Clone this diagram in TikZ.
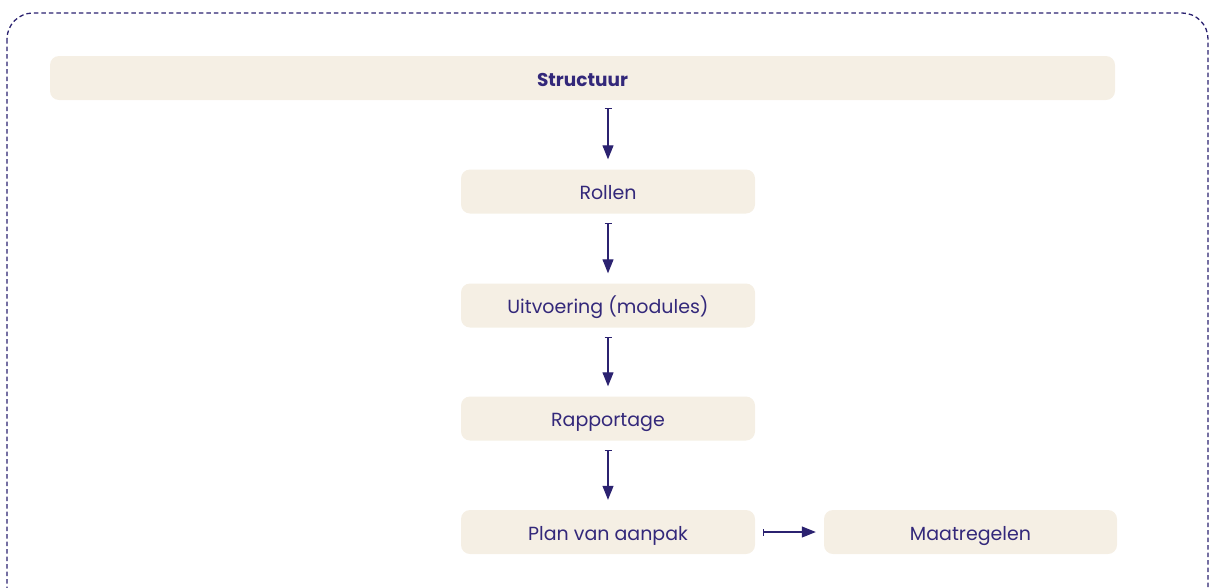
\documentclass[tikz,border=0pt]{standalone}
\usepackage{fontspec}
\setmainfont{Poppins}
\usetikzlibrary{arrows.meta}
\definecolor{navy}{HTML}{2B2270}
\definecolor{txt}{HTML}{33287A}
\definecolor{beige}{HTML}{F5EFE4}
\tikzset{
  box/.style={fill=beige, rounded corners=9pt, minimum height=44pt, text=txt, font=\fontsize{19}{22}\selectfont, inner sep=0pt, text height=16pt, text depth=0pt},
  conn/.style={draw=navy, line width=1.1pt, {Bar[width=7pt,line width=1pt]}-{Triangle[length=14pt,width=11pt]}},
  frame/.style={draw=navy, line width=1.3pt, dash pattern=on 4.5pt off 3pt, rounded corners=26pt},
}
\begin{document}
\begin{tikzpicture}[x=1pt,y=-1pt]
\useasboundingbox (0,0) rectangle (1212,587);
\clip (0,0) rectangle (1212,587);
\draw[frame] (7,13) rectangle (1208,620);
\node[box, minimum width=1065pt, font=\fontsize{18.5}{22}\selectfont\bfseries] (s) at (582.5,78) {Structuur};
\node[box, minimum width=294pt] (r) at (608,191.5) {Rollen};
\node[box, minimum width=294pt] (u) at (608,305.5) {Uitvoering (modules)};
\node[box, minimum width=294pt] (ra) at (608,418.5) {Rapportage};
\node[box, minimum width=294pt] (p) at (608,532) {Plan van aanpak};
\node[box, minimum width=293pt] (m) at (970.5,532) {Maatregelen};
\draw[conn] ([yshift=-8pt]s.south -| r.north) -- ([yshift=10pt]r.north);
\draw[conn] ([yshift=-9pt]r.south) -- ([yshift=10pt]u.north);
\draw[conn] ([yshift=-9pt]u.south) -- ([yshift=10pt]ra.north);
\draw[conn] ([yshift=-9pt]ra.south) -- ([yshift=10pt]p.north);
\draw[conn] ([xshift=8pt]p.east) -- ([xshift=-8pt]m.west);
\end{tikzpicture}
\end{document}
